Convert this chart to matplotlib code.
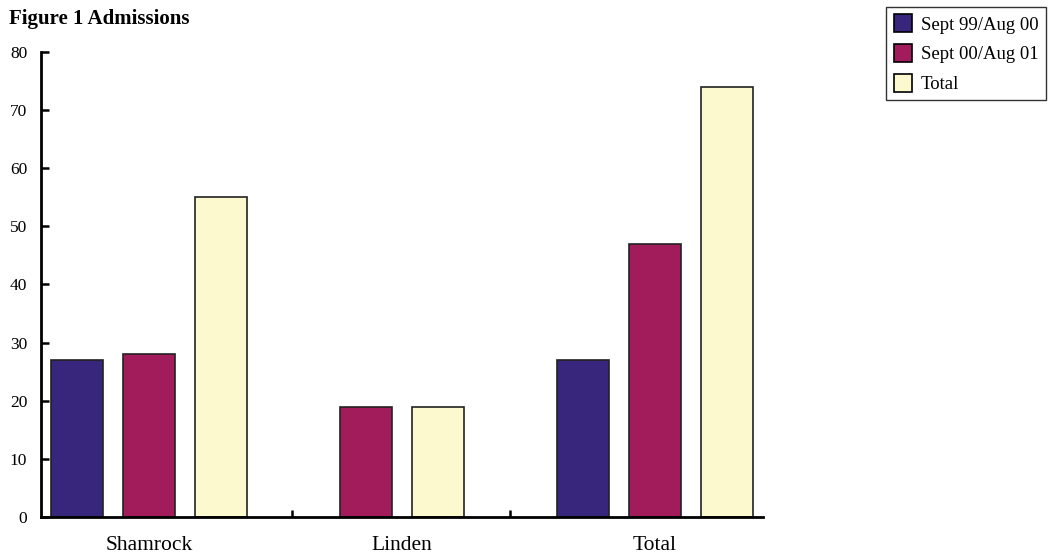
import matplotlib
matplotlib.use("Agg")
import matplotlib.pyplot as plt
from matplotlib.patches import Patch

plt.rcParams['font.family'] = ['Liberation Serif', 'DejaVu Serif']

categories = ["Shamrock", "Linden", "Total"]
series_names = ["Sept 99/Aug 00", "Sept 00/Aug 01", "Total"]
values = {
    "Sept 99/Aug 00": [27, None, 27],
    "Sept 00/Aug 01": [28, 19, 47],
    "Total": [55, 19, 74],
}
colors = ["#37267B", "#A21B5A", "#FDF9CF"]
y_ticks = [0, 10, 20, 30, 40, 50, 60, 70, 80]

fig = plt.figure(figsize=(10.49, 5.54), dpi=100)
ax = fig.add_axes([0.0391, 0.0668, 0.6883, 0.8394])

bar_w = 0.2055
step = 0.2846
for gi, cat in enumerate(categories):
    present = [(si, s) for si, s in enumerate(series_names) if values[s][gi] is not None]
    n = len(present)
    for k, (si, s) in enumerate(present):
        x = gi + (k - (n - 1) / 2) * step
        ax.bar(x, values[s][gi], width=bar_w, color=colors[si],
               edgecolor="#222222", linewidth=1.2, zorder=2)

ax.set_xlim(-0.427, 2.427)
ax.set_ylim(0, 80)
ax.set_yticks(y_ticks)
ax.set_yticklabels([str(v) for v in y_ticks], fontsize=12.5)
ax.set_xticks(range(len(categories)))
ax.set_xticklabels(categories, fontsize=15.5)
ax.tick_params(axis="x", length=0, pad=13.5)
ax.set_xticks([0.565, 1.427], minor=True)
ax.tick_params(axis="x", which="minor", direction="in", length=5, width=1.8)
ax.tick_params(axis="y", direction="in", length=6, width=1.8, pad=10)

for side in ("top", "right"):
    ax.spines[side].set_visible(False)
for side in ("left", "bottom"):
    ax.spines[side].set_linewidth(2)
    ax.spines[side].set_color("black")

fig.text(0.0086, 0.965, "Figure 1 Admissions", fontsize=15, fontweight="bold",
         ha="left", va="center")

handles = [Patch(facecolor=c, edgecolor="black", linewidth=1.2) for c in colors]
leg = fig.legend(handles, series_names, loc="upper right",
                 bbox_to_anchor=(0.997, 0.988), borderaxespad=0,
                 fontsize=13.5, frameon=True,
                 fancybox=False, edgecolor="black", handlelength=1.0,
                 handleheight=1.1, handletextpad=0.45, borderpad=0.4,
                 labelspacing=0.55)
leg.get_frame().set_linewidth(1.0)

fig.savefig("out.png", dpi=100)
